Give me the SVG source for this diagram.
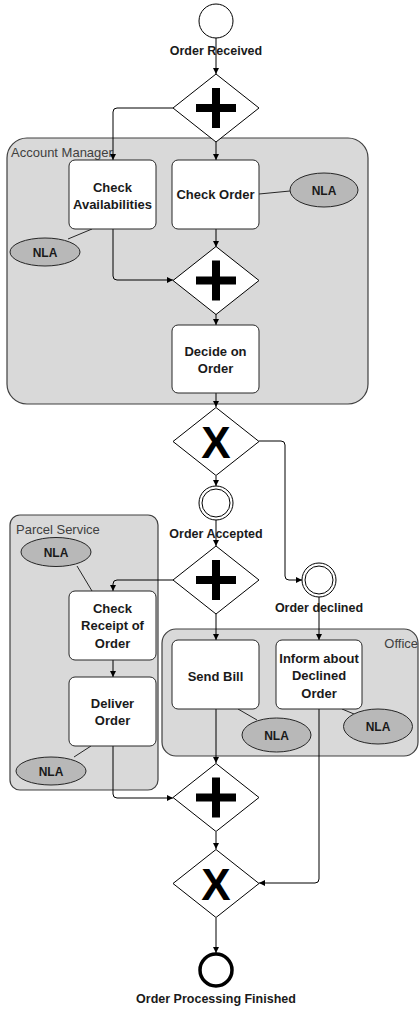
<svg xmlns="http://www.w3.org/2000/svg" xmlns:xlink="http://www.w3.org/1999/xlink" width="419" height="1009" viewBox="0 0 419 1009">
<style>
.pool{fill:#d9d9d9;stroke:#404040;stroke-width:1.2}
.plabel{font-family:"Liberation Sans",Arial,sans-serif;font-size:13px;fill:#404040}
.task{fill:#ffffff;stroke:#262626;stroke-width:1}
.tt{font-family:"Liberation Sans",Arial,sans-serif;font-size:13px;font-weight:bold;fill:#1a1a1a;text-anchor:middle}
.el{font-family:"Liberation Sans",Arial,sans-serif;font-size:12.5px;font-weight:bold;fill:#1a1a1a;text-anchor:middle}
.gw{fill:#ffffff;stroke:#000;stroke-width:1}
.xm{font-family:"Liberation Sans",Arial,sans-serif;font-size:44px;font-weight:bold;fill:#000;text-anchor:middle}
.ev{fill:#ffffff;stroke:#000;stroke-width:1}
.end{fill:#ffffff;stroke:#000;stroke-width:3.5}
.nla{fill:#b8b8b8;stroke:#262626;stroke-width:1}
.nt{font-family:"Liberation Sans",Arial,sans-serif;font-size:12px;font-weight:bold;fill:#1a1a1a;text-anchor:middle}
.flow{fill:none;stroke:#000;stroke-width:1;marker-end:url(#arr)}
.assoc{fill:none;stroke:#262626;stroke-width:1}
</style>
<defs>
<marker id="arr" markerUnits="userSpaceOnUse" markerWidth="7" markerHeight="7" refX="6" refY="3" orient="auto">
<path d="M0,0 L6,3 L0,6 z" fill="#000"/>
</marker>
<path id="plus" d="M-4,-20 H4 V-4 H20 V4 H4 V20 H-4 V4 H-20 V-4 H-4 z" fill="#000"/>
<polygon id="dia" points="0,-34 43,0 0,34 -43,0" class="gw"/>
</defs>

<g id="pools">
<g id="pool-account-manager">
<rect class="pool" x="7" y="138" width="361" height="266" rx="20"/>
<text class="plabel" x="11" y="156.5">Account Manager</text>
</g>
<g id="pool-parcel-service">
<rect class="pool" x="10" y="515" width="148" height="275" rx="10"/>
<text class="plabel" x="16" y="533.5">Parcel Service</text>
</g>
<g id="pool-office">
<rect class="pool" x="162" y="629" width="256" height="127" rx="14"/>
<text class="plabel" x="418" y="647.5" text-anchor="end">Office</text>
</g>
</g>

<g id="connectors">
<path class="flow" d="M216,38 V74"/>
<path class="flow" d="M173,108 H117 Q113,108 113,112 V160"/>
<path class="flow" d="M216,142 V160"/>
<path class="flow" d="M113,229 V276 Q113,280 117,280 H173"/>
<path class="flow" d="M216,229 V247"/>
<path class="flow" d="M216,314 V325"/>
<path class="flow" d="M216,393 V407"/>
<path class="flow" d="M216,476 V486"/>
<path class="flow" d="M259,441 H281 Q285,441 285,445 V576 Q285,580 289,580 H302"/>
<path class="flow" d="M216,520 V546"/>
<path class="flow" d="M173,580 H117 Q113,580 113,584 V591"/>
<path class="flow" d="M113,660 V677"/>
<path class="flow" d="M113,746 V794 Q113,798 117,798 H173"/>
<path class="flow" d="M216,614 V640"/>
<path class="flow" d="M216,709 V763"/>
<path class="flow" d="M319,597 V640"/>
<path class="flow" d="M319,709 V879 Q319,883 315,883 H259"/>
<path class="flow" d="M216,832 V849"/>
<path class="flow" d="M216,918 V953"/>
<path class="assoc" d="M259,194 L290,191"/>
<path class="assoc" d="M92,229 L68,239"/>
<path class="assoc" d="M77,566 L92,591"/>
<path class="assoc" d="M91,746 L74,757"/>
<path class="assoc" d="M238,709 L257,720"/>
<path class="assoc" d="M342,709 L354,714"/>
</g>

<g id="start-order-received">
<circle class="ev" cx="216" cy="21" r="17"/>
<text class="el" x="216" y="55">Order Received</text>
</g>
<g id="gw-parallel-split-1" transform="translate(216,108)">
<use xlink:href="#dia" href="#dia"/>
<use xlink:href="#plus" href="#plus"/>
</g>
<g id="task-check-availabilities">
<rect class="task" x="69" y="160" width="87" height="69" rx="6"/>
<text class="tt" x="112.5" y="191.5">Check</text>
<text class="tt" x="112.5" y="208.5">Availabilities</text>
</g>
<g id="task-check-order">
<rect class="task" x="172" y="160" width="87" height="69" rx="6"/>
<text class="tt" x="215.5" y="198.5">Check Order</text>
</g>
<g id="nla-check-order">
<ellipse class="nla" cx="324" cy="190" rx="34" ry="17"/>
<text class="nt" x="324" y="194.5">NLA</text>
</g>
<g id="nla-check-availabilities">
<ellipse class="nla" cx="45" cy="252" rx="35" ry="14"/>
<text class="nt" x="45" y="256.5">NLA</text>
</g>
<g id="gw-parallel-join-1" transform="translate(216,280.5)">
<use xlink:href="#dia" href="#dia"/>
<use xlink:href="#plus" href="#plus"/>
</g>
<g id="task-decide-on-order">
<rect class="task" x="172" y="325" width="87" height="68" rx="6"/>
<text class="tt" x="215.5" y="355.5">Decide on</text>
<text class="tt" x="215.5" y="372.5">Order</text>
</g>
<g id="gw-exclusive-split" transform="translate(216,441.5)">
<use xlink:href="#dia" href="#dia"/>
<text class="xm" x="0" y="16.5">X</text>
</g>
<g id="event-order-accepted">
<circle class="ev" cx="216" cy="503" r="17"/>
<circle class="ev" cx="216" cy="503" r="14"/>
<text class="el" x="216" y="537.5">Order Accepted</text>
</g>
<g id="event-order-declined">
<circle class="ev" cx="319" cy="580" r="17"/>
<circle class="ev" cx="319" cy="580" r="14"/>
<text class="el" x="319" y="612">Order declined</text>
</g>
<g id="gw-parallel-split-2" transform="translate(216,580)">
<use xlink:href="#dia" href="#dia"/>
<use xlink:href="#plus" href="#plus"/>
</g>
<g id="nla-check-receipt">
<ellipse class="nla" cx="56" cy="552" rx="35" ry="14.5"/>
<text class="nt" x="56" y="556.5">NLA</text>
</g>
<g id="task-check-receipt">
<rect class="task" x="69" y="591" width="87" height="69" rx="6"/>
<text class="tt" x="112.5" y="612.5">Check</text>
<text class="tt" x="112.5" y="630">Receipt of</text>
<text class="tt" x="112.5" y="647.5">Order</text>
</g>
<g id="task-deliver-order">
<rect class="task" x="69" y="677" width="87" height="69" rx="6"/>
<text class="tt" x="112.5" y="707.5">Deliver</text>
<text class="tt" x="112.5" y="724.5">Order</text>
</g>
<g id="nla-deliver-order">
<ellipse class="nla" cx="51" cy="771" rx="35" ry="14"/>
<text class="nt" x="51" y="775.5">NLA</text>
</g>
<g id="task-send-bill">
<rect class="task" x="172" y="640" width="87" height="69" rx="6"/>
<text class="tt" x="215.5" y="680.5">Send Bill</text>
</g>
<g id="nla-send-bill">
<ellipse class="nla" cx="276.5" cy="735" rx="34.5" ry="17"/>
<text class="nt" x="276.5" y="739.5">NLA</text>
</g>
<g id="task-inform-declined">
<rect class="task" x="276" y="640" width="86" height="69" rx="6"/>
<text class="tt" x="319" y="662.5">Inform about</text>
<text class="tt" x="319" y="680">Declined</text>
<text class="tt" x="319" y="697.5">Order</text>
</g>
<g id="nla-inform-declined">
<ellipse class="nla" cx="378" cy="726.5" rx="34.5" ry="17.5"/>
<text class="nt" x="378" y="731">NLA</text>
</g>
<g id="gw-parallel-join-2" transform="translate(216,797.5)">
<use xlink:href="#dia" href="#dia"/>
<use xlink:href="#plus" href="#plus"/>
</g>
<g id="gw-exclusive-join" transform="translate(216,883.5)">
<use xlink:href="#dia" href="#dia"/>
<text class="xm" x="0" y="16.5">X</text>
</g>
<g id="end-order-processing-finished">
<circle class="end" cx="216" cy="970" r="16"/>
<text class="el" x="216" y="1003">Order Processing Finished</text>
</g>
</svg>
